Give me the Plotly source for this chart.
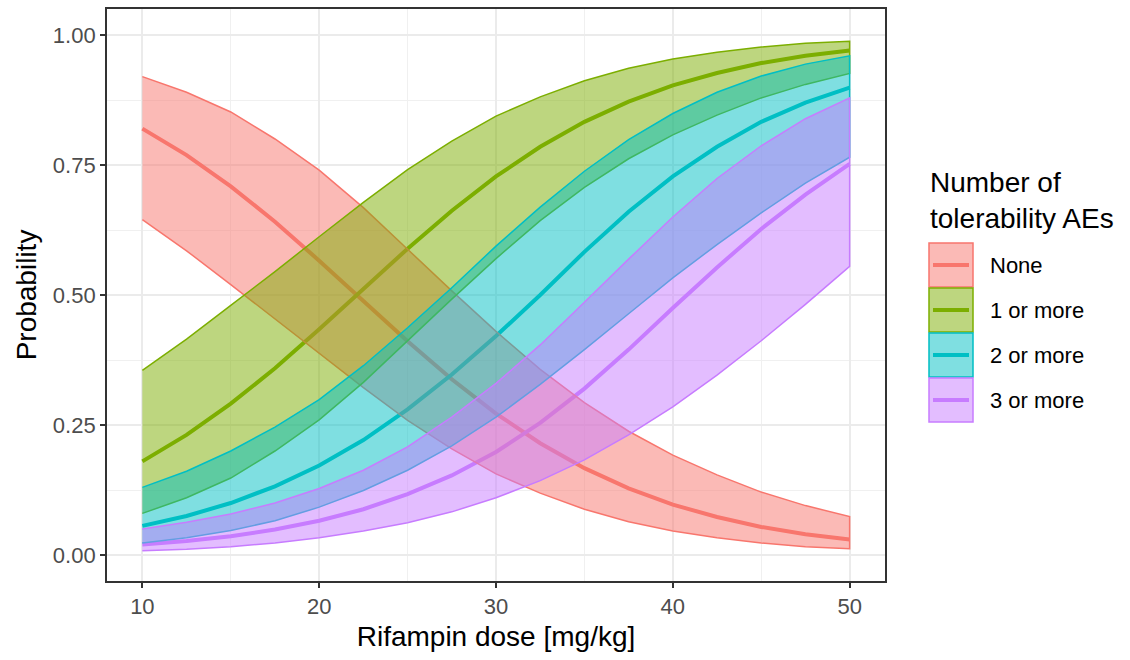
import plotly.graph_objects as go

# Rifampin dose grid (mg/kg)
dose = [10, 12.5, 15, 17.5, 20, 22.5, 25, 27.5, 30, 32.5, 35, 37.5, 40, 42.5, 45, 47.5, 50]

# Predicted probability (median) with lower / upper bounds per outcome group
none_mid = [0.820, 0.769, 0.709, 0.641, 0.566, 0.488, 0.411, 0.338, 0.272, 0.215, 0.167, 0.128, 0.097, 0.073, 0.054, 0.040, 0.030]
none_lo = [0.645, 0.585, 0.520, 0.455, 0.388, 0.322, 0.259, 0.204, 0.156, 0.119, 0.088, 0.064, 0.046, 0.033, 0.023, 0.016, 0.012]
none_hi = [0.920, 0.890, 0.852, 0.800, 0.740, 0.668, 0.588, 0.508, 0.430, 0.357, 0.293, 0.238, 0.192, 0.154, 0.121, 0.095, 0.074]

one_mid = [0.180, 0.231, 0.291, 0.359, 0.434, 0.512, 0.589, 0.662, 0.728, 0.785, 0.833, 0.872, 0.903, 0.927, 0.946, 0.960, 0.970]
one_lo = [0.080, 0.110, 0.148, 0.200, 0.260, 0.332, 0.412, 0.492, 0.570, 0.643, 0.707, 0.762, 0.808, 0.846, 0.879, 0.905, 0.926]
one_hi = [0.355, 0.415, 0.480, 0.545, 0.612, 0.678, 0.741, 0.796, 0.844, 0.881, 0.912, 0.936, 0.954, 0.967, 0.977, 0.984, 0.988]

two_mid = [0.056, 0.075, 0.100, 0.132, 0.172, 0.221, 0.280, 0.347, 0.421, 0.500, 0.583, 0.660, 0.728, 0.785, 0.833, 0.870, 0.899]
two_lo = [0.023, 0.033, 0.047, 0.066, 0.092, 0.124, 0.163, 0.210, 0.265, 0.328, 0.395, 0.464, 0.533, 0.597, 0.658, 0.715, 0.765]
two_hi = [0.130, 0.161, 0.200, 0.246, 0.299, 0.364, 0.437, 0.514, 0.594, 0.669, 0.738, 0.799, 0.849, 0.890, 0.921, 0.944, 0.960]

three_mid = [0.020, 0.027, 0.036, 0.049, 0.066, 0.088, 0.117, 0.153, 0.198, 0.254, 0.320, 0.395, 0.475, 0.553, 0.627, 0.693, 0.752]
three_lo = [0.008, 0.011, 0.016, 0.023, 0.033, 0.046, 0.062, 0.083, 0.110, 0.143, 0.183, 0.231, 0.285, 0.346, 0.412, 0.482, 0.555]
three_hi = [0.050, 0.063, 0.079, 0.100, 0.128, 0.163, 0.208, 0.265, 0.330, 0.404, 0.486, 0.569, 0.650, 0.724, 0.787, 0.839, 0.879]

groups = ["None", "1 or more", "2 or more", "3 or more"]
colors = ["#F8766D", "#7CAE00", "#00BFC4", "#C77CFF"]
mids = [none_mid, one_mid, two_mid, three_mid]
lows = [none_lo, one_lo, two_lo, three_lo]
highs = [none_hi, one_hi, two_hi, three_hi]

x_ticks = [10, 20, 30, 40, 50]
y_ticks = [0.0, 0.25, 0.5, 0.75, 1.0]
y_tick_text = ["0.00", "0.25", "0.50", "0.75", "1.00"]

FONT = "Liberation Sans, Arial, sans-serif"
W, H = 1130, 660
L, R, T, B = 107, 245, 9, 79


def rgba(hex_color, alpha):
    h = hex_color.lstrip("#")
    r, g, b = int(h[0:2], 16), int(h[2:4], 16), int(h[4:6], 16)
    return f"rgba({r},{g},{b},{alpha})"


def xp(px):
    return (px - L) / (W - L - R)


def yp(py):
    return (H - B - py) / (H - B - T)


fig = go.Figure()

# median curves first, ribbons drawn over them
for name, col, mid in zip(groups, colors, mids):
    fig.add_trace(go.Scatter(
        x=dose, y=mid, mode="lines", name=name,
        line=dict(color=col, width=4), showlegend=False, hoverinfo="skip",
    ))

for name, col, lo, hi in zip(groups, colors, lows, highs):
    fig.add_trace(go.Scatter(
        x=dose + dose[::-1], y=hi + lo[::-1], mode="lines", name=name,
        fill="toself", fillcolor=rgba(col, 0.5),
        line=dict(color=col, width=1.5), showlegend=False, hoverinfo="skip",
    ))

# legend drawn by hand: title, boxed keys with a centre line, labels
shapes = []
annotations = [dict(
    x=xp(928), y=yp(165), xref="paper", yref="paper", xanchor="left", yanchor="top",
    text="Number of<br>tolerability AEs", showarrow=False, align="left",
    font=dict(family=FONT, size=28, color="#000000"),
)]
key_top, key_h, key_step = 243, 44, 45
for i, (name, col) in enumerate(zip(groups, colors)):
    y0 = key_top + i * key_step
    y1 = y0 + key_h
    yc = (y0 + y1) / 2
    shapes.append(dict(
        type="rect", xref="paper", yref="paper",
        x0=xp(929), x1=xp(973), y0=yp(y1), y1=yp(y0),
        fillcolor=rgba(col, 0.5), line=dict(color=col, width=1.5), layer="above",
    ))
    shapes.append(dict(
        type="line", xref="paper", yref="paper",
        x0=xp(933), x1=xp(969), y0=yp(yc), y1=yp(yc),
        line=dict(color=col, width=4), layer="above",
    ))
    annotations.append(dict(
        x=xp(988), y=yp(yc), xref="paper", yref="paper", xanchor="left", yanchor="middle",
        text=name, showarrow=False, font=dict(family=FONT, size=22, color="#000000"),
    ))

axis_common = dict(
    showline=True, linecolor="#333333", linewidth=1.8, mirror=True,
    ticks="outside", ticklen=5, tickwidth=1.5, tickcolor="#333333",
    showgrid=True, gridcolor="#EBEBEB", gridwidth=1.8, zeroline=False,
    tickfont=dict(family=FONT, size=22, color="#4D4D4D"),
)

fig.update_layout(
    width=W, height=H,
    margin=dict(l=L, r=R, t=T, b=B, autoexpand=False),
    paper_bgcolor="white", plot_bgcolor="white",
    font=dict(family=FONT),
    shapes=shapes, annotations=annotations,
    xaxis=dict(
        **axis_common, range=[8, 52], tickvals=x_ticks,
        minor=dict(dtick=5, tick0=0, showgrid=True, gridcolor="#F0F0F0", gridwidth=1.2, ticks=""),
        title=dict(text="Rifampin dose [mg/kg]", font=dict(family=FONT, size=28, color="#000000"), standoff=8),
    ),
    yaxis=dict(
        **axis_common, range=[-0.05, 1.05], tickvals=y_ticks, ticktext=y_tick_text,
        minor=dict(dtick=0.125, tick0=0, showgrid=True, gridcolor="#F0F0F0", gridwidth=1.2, ticks=""),
        title=dict(text="Probability", font=dict(family=FONT, size=28, color="#000000"), standoff=8),
    ),
)

fig.write_html("out.html")
